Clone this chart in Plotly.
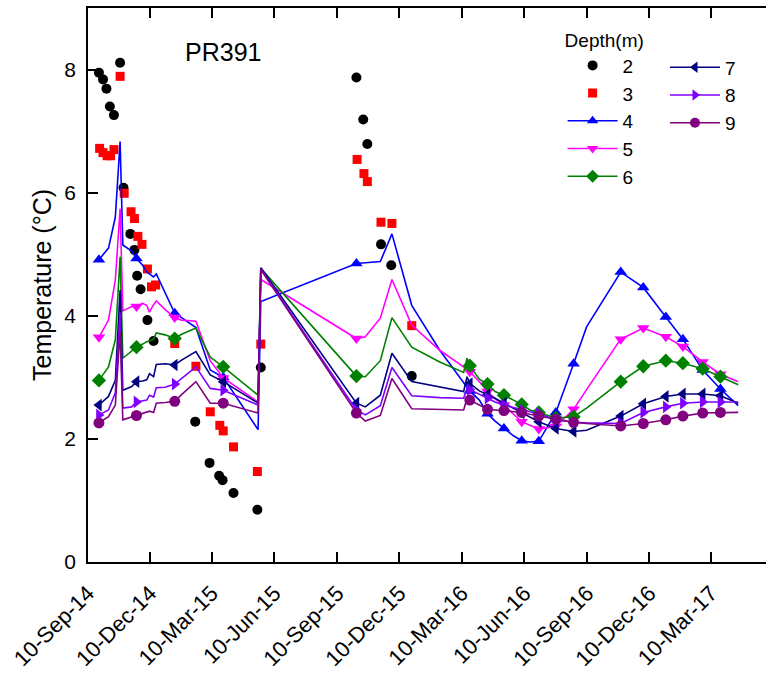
import pandas as pd
import plotly.graph_objects as go

START = pd.Timestamp("2014-09-10")

# Spot readings at 2 m and 3 m (days since 10-Sep-14, degC)
D2_DAYS = [16, 22, 27, 32, 38, 47, 52, 62, 68, 72, 77, 87, 96, 157, 178, 192, 197, 213,
           248, 253, 393, 403, 409, 429, 444, 474]
D2_T = [7.95, 7.84, 7.69, 7.40, 7.26, 8.11, 6.08, 5.33, 5.07, 4.65, 4.43, 3.93, 3.59, 2.28,
        1.61, 1.40, 1.33, 1.12, 0.85, 3.16, 7.87, 7.19, 6.79, 5.16, 4.82, 3.02]

D3_DAYS = [17, 22, 28, 33, 38, 47, 53, 63, 68, 73, 79, 87, 93, 99, 127, 158, 179, 193, 198,
           213, 248, 253, 394, 404, 409, 429, 445, 474]
D3_T = [6.72, 6.65, 6.60, 6.60, 6.70, 7.89, 5.99, 5.69, 5.58, 5.29, 5.16, 4.76, 4.47, 4.50,
        3.55, 3.18, 2.44, 2.22, 2.13, 1.87, 1.47, 3.54, 6.54, 6.31, 6.18, 5.52, 5.50, 3.84]

# Thermistor string record, depths 4-9 m (shared sample days)
STRING_DAYS = [16, 30, 40, 47, 51, 64, 71, 80, 86, 90, 96, 100, 113, 127, 137, 158, 179, 198,
               249, 253, 393, 406, 428, 445, 474, 515, 550, 555, 559, 573, 585, 596, 609, 623,
               635, 647, 660, 685, 711, 730, 780, 813, 846, 871, 900, 926, 952]
MARKED_DAYS = [16, 71, 127, 198, 393, 559, 585, 609, 635, 660, 685, 711, 780, 813, 846, 871,
               900, 926]

T4 = [4.91, 5.10, 5.60, 6.83, 5.15, 5.05, 4.93, 4.82, 4.71, 4.68, 4.63, 4.68, 4.37, 4.04,
      3.97, 3.81, 3.12, 3.00, 2.15, 4.23, 4.85, 4.86, 4.88, 5.33, 4.17, 3.44, 2.90, 2.83,
      2.78, 2.63, 2.41, 2.29, 2.17, 2.05, 1.97, 1.95, 1.96, 2.43, 3.22, 3.82, 4.71, 4.46,
      3.98, 3.62, 3.12, 2.81, 2.54]
T5 = [3.65, 3.93, 4.58, 5.74, 4.08, 4.15, 4.15, 4.20, 4.17, 4.06, 4.18, 4.24, 4.10, 3.97,
      3.93, 3.91, 3.27, 2.99, 2.60, 4.59, 3.63, 3.66, 3.96, 4.59, 3.85, 3.44, 3.17, 3.12,
      3.09, 2.93, 2.77, 2.65, 2.55, 2.40, 2.28, 2.22, 2.16, 2.20, 2.48, 2.80, 3.62, 3.80,
      3.66, 3.50, 3.25, 3.05, 2.93]
T6 = [2.95, 3.17, 3.61, 4.96, 3.31, 3.42, 3.49, 3.54, 3.58, 3.59, 3.62, 3.72, 3.69, 3.63,
      3.70, 3.80, 3.33, 3.17, 2.71, 4.77, 3.02, 3.01, 3.27, 3.97, 3.49, 3.25, 3.08, 3.31,
      3.19, 2.97, 2.89, 2.77, 2.71, 2.63, 2.56, 2.47, 2.43, 2.34, 2.36, 2.50, 2.93, 3.18,
      3.27, 3.23, 3.14, 3.01, 2.88]
T7 = [2.55, 2.69, 2.95, 4.42, 2.79, 2.85, 2.93, 2.94, 2.96, 3.06, 3.01, 3.21, 3.22, 3.20,
      3.28, 3.42, 3.04, 2.93, 2.58, 4.78, 2.58, 2.52, 2.71, 3.39, 2.93, 2.85, 2.77, 3.01,
      2.90, 2.78, 2.72, 2.66, 2.58, 2.50, 2.42, 2.35, 2.28, 2.17, 2.12, 2.14, 2.37, 2.57,
      2.69, 2.73, 2.73, 2.70, 2.58]
T8 = [2.39, 2.47, 2.75, 4.05, 2.50, 2.52, 2.60, 2.62, 2.63, 2.71, 2.68, 2.83, 2.84, 2.89,
      2.98, 3.17, 2.82, 2.79, 2.55, 4.76, 2.47, 2.39, 2.54, 3.16, 2.70, 2.67, 2.66, 2.82,
      2.80, 2.73, 2.66, 2.60, 2.55, 2.51, 2.47, 2.44, 2.41, 2.31, 2.27, 2.26, 2.25, 2.43,
      2.52, 2.58, 2.60, 2.60, 2.60]
T9 = [2.26, 2.36, 2.55, 3.75, 2.31, 2.36, 2.38, 2.41, 2.44, 2.45, 2.43, 2.58, 2.59, 2.61,
      2.72, 2.93, 2.58, 2.58, 2.42, 4.75, 2.42, 2.29, 2.38, 2.98, 2.49, 2.48, 2.47, 2.66,
      2.63, 2.55, 2.48, 2.47, 2.46, 2.44, 2.43, 2.40, 2.37, 2.32, 2.27, 2.25, 2.21, 2.25,
      2.31, 2.37, 2.42, 2.43, 2.43]

TICK_DATES = ["2014-09-10", "2014-12-10", "2015-03-10", "2015-06-10", "2015-09-10",
              "2015-12-10", "2016-03-10", "2016-06-10", "2016-09-10", "2016-12-10",
              "2017-03-10"]

FONT = "Arial, 'Liberation Sans', sans-serif"


def to_dates(days):
    return [START + pd.Timedelta(days=d) for d in days]


fig = go.Figure()

fig.add_trace(go.Scatter(
    x=to_dates(D2_DAYS), y=D2_T, mode="markers", name="2", legend="legend",
    marker=dict(symbol="circle", size=10, color="black", opacity=1, line_width=0)))
fig.add_trace(go.Scatter(
    x=to_dates(D3_DAYS), y=D3_T, mode="markers", name="3", legend="legend",
    marker=dict(symbol="square", size=9, color="#FF0000", opacity=1, line_width=0)))

string_series = [
    ("4", T4, "#0000FF", "triangle-up", "legend"),
    ("5", T5, "#FF00FF", "triangle-down", "legend"),
    ("6", T6, "#008000", "diamond", "legend"),
    ("7", T7, "#000080", "triangle-left", "legend2"),
    ("8", T8, "#8000FF", "triangle-right", "legend2"),
    ("9", T9, "#800080", "circle", "legend2"),
]

string_dates = to_dates(STRING_DAYS)
marker_sizes = [11 if d in MARKED_DAYS else 0 for d in STRING_DAYS]

for name, temps, color, symbol, leg in string_series:
    fig.add_trace(go.Scatter(
        x=string_dates, y=temps, mode="lines+markers", showlegend=False,
        line=dict(color=color, width=1.6),
        marker=dict(symbol=symbol, size=marker_sizes, color=color, opacity=1,
                    line_width=0)))
    # legend entry for the depth (line with its symbol)
    fig.add_trace(go.Scatter(
        x=[None], y=[None], mode="lines+markers", name=name, legend=leg,
        line=dict(color=color, width=1.6),
        marker=dict(symbol=symbol, size=10, color=color, opacity=1, line_width=0)))

fig.add_annotation(text="PR391", xref="paper", yref="paper", x=0.199, y=0.921,
                   xanchor="center", yanchor="middle", showarrow=False,
                   font=dict(family=FONT, size=25, color="black"))

axis_common = dict(showline=True, linecolor="black", linewidth=1.5, ticks="inside",
                   ticklen=10, tickwidth=1.5, tickcolor="black", showgrid=False,
                   zeroline=False)

fig.update_layout(
    width=766, height=677,
    margin=dict(l=88, r=0, t=8, b=115),
    paper_bgcolor="white", plot_bgcolor="white",
    font=dict(family=FONT, size=20, color="black"),
    showlegend=True,
    xaxis=dict(**axis_common, mirror="ticks", type="date",
               range=[START, START + pd.Timedelta(days=992.7)],
               tickvals=TICK_DATES, tickformat="%d-%b-%y", tickangle=-45,
               ticklabelstandoff=8,
               tickfont=dict(family=FONT, size=22)),
    yaxis=dict(**axis_common, range=[0, 9], tickvals=[0, 2, 4, 6, 8],
               ticklabelstandoff=6,
               tickfont=dict(family=FONT, size=21),
               title=dict(text="Temperature (°C)", font=dict(family=FONT, size=25),
                          standoff=6)),
    legend=dict(x=0.70, y=0.975, xanchor="left", yanchor="top",
                bgcolor="rgba(0,0,0,0)", font=dict(family=FONT, size=19),
                title=dict(text="Depth(m)", font=dict(family=FONT, size=19)),
                itemwidth=50, tracegroupgap=0),
    legend2=dict(x=0.851, y=0.927, xanchor="left", yanchor="top",
                 bgcolor="rgba(0,0,0,0)", font=dict(family=FONT, size=19),
                 itemwidth=50, tracegroupgap=0),
)

fig.write_html("out.html")
